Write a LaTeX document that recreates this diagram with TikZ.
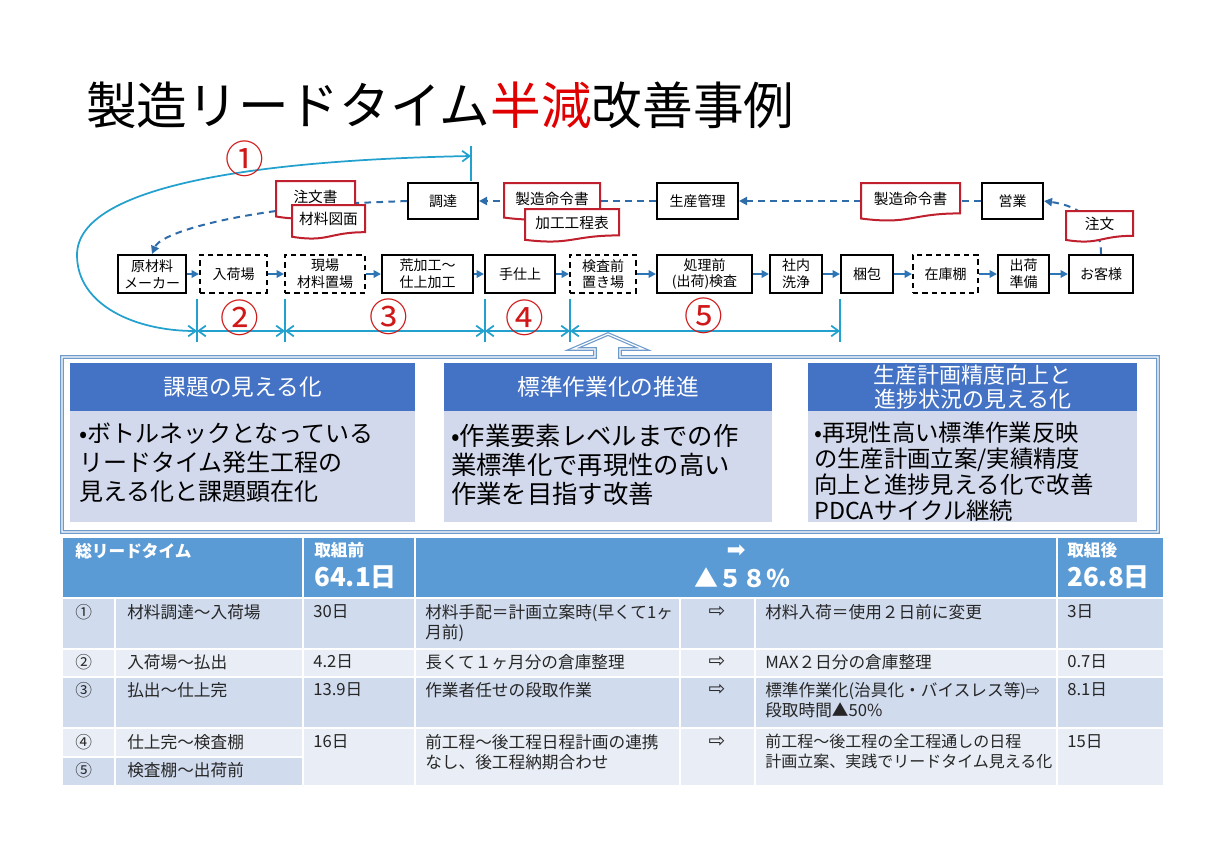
\documentclass[tikz,border=0pt]{standalone}
\usepackage{fontspec}
\setmainfont{Noto Sans CJK JP}
\newfontfamily\djv{DejaVu Sans}
\usetikzlibrary{arrows.meta,calc}
\definecolor{flowblue}{HTML}{2E75B6}
\definecolor{dashblue}{HTML}{2F6DAA}
\definecolor{cyanline}{HTML}{22A0CE}
\definecolor{docred}{HTML}{C0202D}
\definecolor{numred}{HTML}{D01818}
\definecolor{titlered}{HTML}{E00000}
\definecolor{framebl}{HTML}{6E9BCB}
\definecolor{hdrblue}{HTML}{4472C4}
\definecolor{bodylav}{HTML}{D3D9EC}
\definecolor{tblhdr}{HTML}{5B9BD5}
\definecolor{rowdark}{HTML}{D0DBEE}
\definecolor{rowlight}{HTML}{E9EEF6}
\newcommand\docshape[6]{%
  \pgfmathsetmacro\dh{#5-#3}%
  \pgfmathsetmacro\dmx{(#2+#4)/2}%
  \filldraw[docline] (#2,#3) -- (#4,#3) -- (#4,{#3+0.8*\dh}) .. controls (\dmx,{#3+0.8*\dh}) and (\dmx,{#3+1.105*\dh}) .. (#2,{#3+0.934*\dh}) -- cycle;
  \node[doctext] (#1) at (\dmx,{#3+0.42*\dh}) {#6};
}
\begin{document}
\begin{tikzpicture}[x=0.75pt,y=-0.75pt,
  proc/.style={draw=black,line width=1.5pt,fill=white,inner sep=0pt,align=center,
    font=\fontsize{10.5}{12.5}\selectfont,minimum height=38*0.75pt,minimum width={#1*0.75pt}},
  procd/.style={proc=#1,dash pattern=on 4pt off 3pt},
  upbox/.style={proc=#1,minimum height=36*0.75pt},
  flow/.style={-{Triangle[length=5.5pt,width=5.5pt]},flowblue,line width=1.4pt},
  dflow/.style={-{Triangle[length=6pt,width=6pt]},dashblue,line width=1.5pt,dash pattern=on 5pt off 4pt},
  docline/.style={draw=docred,fill=white,line width=1.5pt},
  doctext/.style={font=\fontsize{11}{12}\selectfont,inner sep=0pt},
  brk/.style={cyanline,line width=1.3pt},
  dbl/.style={brk,{Straight Barb[length=5.5pt,width=8pt]}-{Straight Barb[length=5.5pt,width=8pt]}},
  circnum/.style={text=numred,font=\fontsize{29}{29}\selectfont,inner sep=0pt},
  hdr/.style={fill=hdrblue,text=white,align=center,inner sep=0pt,anchor=north west,
    minimum height=48*0.75pt,font=\fontsize{17}{18}\selectfont},
  bodybox/.style={fill=bodylav,inner sep=0pt,anchor=north west,minimum height=111*0.75pt},
  bodytext/.style={anchor=north west,inner sep=0pt,align=left,font=\fontsize{18}{21.75}\selectfont},
  cell/.style={anchor=north west,inner sep=0pt,align=left,font=\fontsize{12.5}{15}\selectfont,text=black!85},
  arr/.style={inner sep=0pt,font=\djv\fontsize{15}{16}\selectfont,text=black!85},
  th/.style={anchor=north west,inner sep=0pt,align=left,text=white,font=\bfseries\fontsize{12.5}{15}\selectfont},
  thbig/.style={anchor=north west,inner sep=0pt,text=white,font=\bfseries\fontsize{19.5}{22}\selectfont},
  wline/.style={white,line width=1.6pt}
]
\useasboundingbox (0,0) rectangle (1220,854);
\fill[white] (0,0) rectangle (1220,854);

% title
\node[anchor=west,inner sep=0pt,font=\fontsize{38}{40}\selectfont] (title) at (86,105)
  {製造リードタイム\textcolor{titlered}{半減}改善事例};

% process row
\node[proc=68] (genzai) at (152,274) {原材料\\メーカー};
\node[procd=67] (nyuka) at (233.5,274) {入荷場};
\node[procd=80] (genba) at (325,274) {現場\\材料置場};
\node[proc=91] (ara) at (427.5,274) {荒加工～\\仕上加工};
\node[proc=70] (teshiage) at (520,274) {手仕上};
\node[procd=66] (kensamae) at (603,274) {検査前\\置き場};
\node[proc=95] (shorimae) at (704.5,274) {処理前\\(出荷)検査};
\node[proc=52] (shanai) at (796,274) {社内\\洗浄};
\node[proc=52] (konpo) at (867,274) {梱包};
\node[procd=65] (zaiko) at (945.5,274) {在庫棚};
\node[proc=51] (shukka) at (1023.5,274) {出荷\\準備};
\node[proc=64] (okyaku) at (1101,274) {お客様};

\draw[flow] (genzai) -- (nyuka);
\draw[flow] (nyuka) -- (genba);
\draw[flow] (genba) -- (ara);
\draw[flow] (ara) -- (teshiage);
\draw[flow] (teshiage) -- (kensamae);
\draw[flow] (kensamae) -- (shorimae);
\draw[flow] (shorimae) -- (shanai);
\draw[flow] (shanai) -- (konpo);
\draw[flow] (konpo) -- (zaiko);
\draw[flow] (zaiko) -- (shukka);
\draw[flow] (shukka) -- (okyaku);

% upper row
\node[upbox=70] (chotatsu) at (443,201) {調達};
\node[upbox=81] (seisan) at (697.5,201) {生産管理};
\node[upbox=61] (eigyo) at (1012.5,201) {営業};

% dashed information flow
\draw[dflow] (okyaku.north) .. controls (1101,222) and (1080,206) .. (eigyo.east);
\draw[dflow] (eigyo.west) -- (seisan.east);
\draw[dflow] (seisan.west) -- (chotatsu.east);
\draw[dflow] (chotatsu.west) -- (330,204) -- (276,211) .. controls (210,220) and (160,235) .. (genzai.north);

% documents
\docshape{dchumonsho}{276}{181}{355}{219}{注文書}
\docshape{dzairyo}{292}{205}{365}{239}{材料図面}
\docshape{dseizo1}{504}{183}{600}{220}{製造命令書}
\docshape{dkako}{525}{209}{619}{242}{加工工程表}
\docshape{dseizo2}{861}{183}{960}{221}{製造命令書}
\docshape{dchumon}{1066}{211}{1133}{242}{注文}

% lead time brackets
\coordinate (topt) at (471,156);
\coordinate (p1) at (197,331);
\coordinate (p2) at (285,331);
\coordinate (p3) at (485,331);
\coordinate (p4) at (570,331);
\coordinate (p5) at (840,331);
\draw[brk] (471,146) -- (471,181);
\foreach \xx in {197,285,485,570,840} \draw[brk] (\xx,299) -- (\xx,342);
\draw[dbl] (p1) .. controls (135,331) and (77,305) .. (77,255) .. controls (77,185) and (260,160) .. (topt);
\draw[dbl] (p1) -- (p2);
\draw[dbl] (p2) -- (p3);
\draw[dbl] (p3) -- (p4);
\draw[dbl] (p4) -- (p5);
\node[circnum] (n1) at (245,159) {①};
\node[circnum] (n2) at (240,318) {②};
\node[circnum] (n3) at (389,317) {③};
\node[circnum] (n4) at (525,318) {④};
\node[circnum] (n5) at (704,316) {⑤};

% frame with up arrow
\draw[framebl,line width=0.9pt,double=white,double distance=0.9pt,line join=miter]
  (595,357) -- (595,349) -- (573,349) -- (608,334) -- (643,349) -- (620,349) -- (620,357)
  -- (1158,357) -- (1158,532) -- (62,532) -- (62,357) -- cycle;

% three measure boxes
\node[hdr,minimum width=345*0.75pt] (h1) at (70,363) {課題の見える化};
\node[bodybox,minimum width=345*0.75pt] (bb1) at (70,411) {};
\node[bodytext] (b1) at (79,423) {•ボトルネックとなっている\\リードタイム発生工程の\\見える化と課題顕在化};
\node[hdr,minimum width=328*0.75pt] (h2) at (444,363) {標準作業化の推進};
\node[bodybox,minimum width=328*0.75pt] (bb2) at (444,411) {};
\node[bodytext,font=\fontsize{19}{21.75}\selectfont] (b2) at (451,424) {•作業要素レベルまでの作\\業標準化で再現性の高い\\作業を目指す改善};
\node[hdr,minimum width=329*0.75pt,font=\fontsize{16.5}{18}\selectfont] (h3) at (808,363) {生産計画精度向上と\\進捗状況の見える化};
\node[bodybox,minimum width=329*0.75pt] (bb3) at (808,411) {};
\node[bodytext,font=\fontsize{17.5}{19.3}\selectfont] (b3) at (814,422) {•再現性高い標準作業反映\\の生産計画立案/実績精度\\向上と進捗見える化で改善\\PDCAサイクル継続};

% table backgrounds
\fill[tblhdr] (63,538) rectangle (1163,598);
\fill[rowdark] (63,598) rectangle (1163,649);
\fill[rowlight] (63,649) rectangle (1163,677);
\fill[rowdark] (63,677) rectangle (1163,728);
\fill[rowlight] (63,728) rectangle (1163,785);
\fill[rowdark] (63,757) rectangle (303,785);
\foreach \xx in {303,415,1057} \draw[wline] (\xx,538) -- (\xx,785);
\foreach \xx in {115,680,755} \draw[wline] (\xx,598) -- (\xx,785);
\foreach \yy in {598,649,677,728} \draw[wline] (63,\yy) -- (1163,\yy);
\draw[wline] (63,757) -- (303,757);

% table header
\node[th] (th1) at (75,543) {総リードタイム};
\node[th] (th2) at (314,542) {取組前};
\node[thbig] (th3) at (314,565) {64.1日};
\node[inner sep=0pt,text=white,font=\djv\fontsize{17}{18}\selectfont] (th4) at (736,551) {➡};
\node[inner sep=0pt,text=white,font=\bfseries\fontsize{18}{19}\selectfont] (th5) at (742,578) {▲５８％};
\node[th] (th6) at (1067,542) {取組後};
\node[thbig] (th7) at (1067,565) {26.8日};

% row 1
\node[cell] (r1a) at (75,604) {①};
\node[cell] (r1b) at (127,604) {材料調達～入荷場};
\node[cell] (r1c) at (313,604) {30日};
\node[cell] (r1d) at (425,604) {材料手配＝計画立案時(早くて1ヶ\\月前)};
\node[arr] (r1e) at (717,612) {⇨};
\node[cell] (r1f) at (765,604) {材料入荷＝使用２日前に変更};
\node[cell] (r1g) at (1067,604) {3日};
% row 2
\node[cell] (r2a) at (75,654) {②};
\node[cell] (r2b) at (127,654) {入荷場～払出};
\node[cell] (r2c) at (313,654) {4.2日};
\node[cell] (r2d) at (425,654) {長くて１ヶ月分の倉庫整理};
\node[arr] (r2e) at (717,662) {⇨};
\node[cell] (r2f) at (765,654) {MAX２日分の倉庫整理};
\node[cell] (r2g) at (1067,654) {0.7日};
% row 3
\node[cell] (r3a) at (75,682) {③};
\node[cell] (r3b) at (127,682) {払出～仕上完};
\node[cell] (r3c) at (313,682) {13.9日};
\node[cell] (r3d) at (425,682) {作業者任せの段取作業};
\node[arr] (r3e) at (717,690) {⇨};
\node[cell] (r3f) at (765,682) {標準作業化(治具化・バイスレス等){\djv ⇨}\\段取時間▲50\%};
\node[cell] (r3g) at (1067,682) {8.1日};
% row 4/5
\node[cell] (r4a) at (75,734) {④};
\node[cell] (r4b) at (127,734) {仕上完～検査棚};
\node[cell] (r4c) at (313,734) {16日};
\node[cell] (r4d) at (425,734) {前工程～後工程日程計画の連携\\なし、後工程納期合わせ};
\node[arr] (r4e) at (717,742) {⇨};
\node[cell,font=\fontsize{12}{15}\selectfont] (r4f) at (765,734) {前工程～後工程の全工程通しの日程\\計画立案、実践でリードタイム見える化};
\node[cell] (r4g) at (1067,734) {15日};
\node[cell] (r5a) at (75,762) {⑤};
\node[cell] (r5b) at (127,762) {検査棚～出荷前};
\end{tikzpicture}
\end{document}
